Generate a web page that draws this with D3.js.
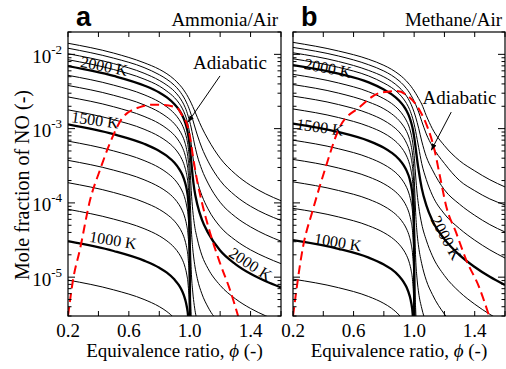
<!DOCTYPE html>
<html><head><meta charset="utf-8">
<script src="https://cdn.jsdelivr.net/npm/d3@7"></script>
<style>body{margin:0;background:#fff}svg{display:block}</style>
</head><body>
<svg id="c" width="506" height="369"></svg>
<script>
// ---------------- data ----------------
const isoTemps = [900,1000,1100,1200,1300,1400,1500,1600,1700,1800,1900,2000,2100,2200,2300,2400];
const boldTemps = [1000,1500,2000];
const xTickValues = [0.2,0.4,0.6,0.8,1.0,1.2,1.4,1.6];
const xTickLabels = [0.2,0.6,1.0,1.4];
const yDecades = [1e-5,1e-4,1e-3,1e-2];

// Ammonia/Air isotherms: [phi, NO mole fraction]
const nh3Isotherms = [
 [[0.2,9.14e-6],[0.5,6.75e-6],[0.7,5.01e-6],[0.8,4.01e-6],[0.85,3.44e-6],[0.9,2.78e-6],[0.93,2.31e-6],[0.95,1.95e-6]],
 [[0.2,3.05e-5],[0.5,2.25e-5],[0.7,1.67e-5],[0.8,1.34e-5],[0.85,1.15e-5],[0.9,9.29e-6],[0.93,7.73e-6],[0.95,6.52e-6],[0.97,5.02e-6],[0.98,4.09e-6],[0.99,2.89e-6],[0.997,1.58e-6]],
 [[0.2,8.20e-5],[0.5,6.05e-5],[0.7,4.50e-5],[0.8,3.60e-5],[0.85,3.08e-5],[0.9,2.49e-5],[0.93,2.07e-5],[0.95,1.75e-5],[0.97,1.35e-5],[0.98,1.10e-5],[0.99,7.76e-6],[0.997,4.25e-6],[1.0,1e-7]],
 [[0.2,1.87e-4],[0.5,1.38e-4],[0.7,1.02e-4],[0.8,8.18e-5],[0.85,7.01e-5],[0.9,5.68e-5],[0.93,4.72e-5],[0.95,3.98e-5],[0.97,3.07e-5],[0.98,2.50e-5],[0.99,1.77e-5],[0.997,9.66e-6],[1.0,1e-7]],
 [[0.2,3.74e-4],[0.5,2.76e-4],[0.7,2.05e-4],[0.8,1.64e-4],[0.85,1.41e-4],[0.9,1.14e-4],[0.93,9.46e-5],[0.95,7.98e-5],[0.97,6.15e-5],[0.98,5.01e-5],[0.99,3.54e-5],[0.997,1.94e-5],[1.0,2.12e-6],[1.003,1e-7]],
 [[0.2,6.79e-4],[0.5,5.01e-4],[0.7,3.72e-4],[0.8,2.98e-4],[0.85,2.55e-4],[0.9,2.07e-4],[0.93,1.72e-4],[0.95,1.45e-4],[0.97,1.12e-4],[0.98,9.10e-5],[0.99,6.43e-5],[0.997,3.52e-5],[1.0,6.70e-6],[1.003,1e-7]],
 [[0.2,1.14e-3],[0.5,8.41e-4],[0.7,6.25e-4],[0.8,5.00e-4],[0.85,4.29e-4],[0.9,3.47e-4],[0.93,2.88e-4],[0.95,2.43e-4],[0.97,1.87e-4],[0.98,1.53e-4],[0.99,1.08e-4],[0.997,5.90e-5],[1.0,1.81e-5],[1.003,1.7e-6],[1.006,1e-7]],
 [[0.2,1.79e-3],[0.5,1.32e-3],[0.7,9.82e-4],[0.8,7.85e-4],[0.85,6.73e-4],[0.9,5.45e-4],[0.93,4.53e-4],[0.95,3.82e-4],[0.97,2.94e-4],[0.98,2.40e-4],[0.99,1.69e-4],[0.997,9.72e-5],[1.0,4.32e-5],[1.003,9.33e-6],[1.01,2.82e-6],[1.02,1.4e-6]],
 [[0.2,2.67e-3],[0.5,1.97e-3],[0.7,1.46e-3],[0.8,1.17e-3],[0.85,1.00e-3],[0.9,8.11e-4],[0.93,6.75e-4],[0.95,5.69e-4],[0.97,4.39e-4],[0.98,3.57e-4],[0.99,2.57e-4],[0.997,1.56e-4],[1.0,9.31e-5],[1.003,3.89e-5],[1.01,1.26e-5],[1.02,6.31e-6],[1.03,4.17e-6],[1.05,2.51e-6]],
 [[0.2,3.81e-3],[0.5,2.81e-3],[0.7,2.09e-3],[0.8,1.67e-3],[0.85,1.43e-3],[0.9,1.16e-3],[0.93,9.64e-4],[0.95,8.15e-4],[0.97,6.34e-4],[0.98,5.21e-4],[0.99,3.82e-4],[0.997,2.52e-4],[1.0,1.84e-4],[1.003,1.18e-4],[1.01,4.75e-5],[1.02,2.41e-5],[1.03,1.61e-5],[1.05,9.57e-6],[1.08,5.97e-6],[1.12,3.96e-6],[1.2,2.35e-6]],
 [[0.2,5.22e-3],[0.5,3.85e-3],[0.7,2.86e-3],[0.8,2.29e-3],[0.85,1.96e-3],[0.9,1.59e-3],[0.93,1.33e-3],[0.95,1.13e-3],[0.97,8.85e-4],[0.98,7.38e-4],[0.99,5.61e-4],[0.997,4.10e-4],[1.0,3.40e-4],[1.003,2.69e-4],[1.01,1.47e-4],[1.02,7.89e-5],[1.03,5.28e-5],[1.05,3.26e-5],[1.08,1.97e-5],[1.12,1.31e-5],[1.2,7.76e-6],[1.3,5.12e-6],[1.4,3.79e-6],[1.5,3.01e-6],[1.6,2.48e-6]],
 [[0.2,6.95e-3],[0.5,5.13e-3],[0.7,3.81e-3],[0.8,3.06e-3],[0.85,2.63e-3],[0.9,2.13e-3],[0.93,1.79e-3],[0.95,1.52e-3],[0.97,1.21e-3],[0.98,1.03e-3],[0.99,8.24e-4],[1.0,5.87e-4],[1.01,3.61e-4],[1.02,2.22e-4],[1.03,1.53e-4],[1.05,9.53e-5],[1.08,5.96e-5],[1.12,3.98e-5],[1.2,2.28e-5],[1.3,1.50e-5],[1.4,1.11e-5],[1.5,8.83e-6],[1.6,7.28e-6]],
 [[0.2,8.47e-3],[0.5,6.25e-3],[0.7,4.65e-3],[0.8,3.74e-3],[0.85,3.19e-3],[0.9,2.61e-3],[0.93,2.20e-3],[0.95,1.89e-3],[0.97,1.53e-3],[0.98,1.33e-3],[0.99,1.10e-3],[1.0,8.57e-4],[1.01,6.17e-4],[1.02,4.29e-4],[1.03,3.11e-4],[1.05,1.97e-4],[1.08,1.26e-4],[1.12,8.32e-5],[1.2,4.78e-5],[1.3,3.15e-5],[1.4,2.33e-5],[1.5,1.85e-5],[1.6,1.52e-5]],
 [[0.2,1.02e-2],[0.5,7.50e-3],[0.7,5.57e-3],[0.8,4.46e-3],[0.85,3.85e-3],[0.9,3.17e-3],[0.93,2.69e-3],[0.95,2.33e-3],[0.97,1.93e-3],[0.98,1.71e-3],[0.99,1.47e-3],[1.0,1.25e-3],[1.01,1.02e-3],[1.02,8.1e-4],[1.03,6.4e-4],[1.05,4.3e-4],[1.08,2.8e-4],[1.12,1.85e-4],[1.2,1.02e-4],[1.3,6.5e-5],[1.4,4.75e-5],[1.5,3.72e-5],[1.6,3.05e-5]],
 [[0.2,1.21e-2],[0.5,8.89e-3],[0.7,6.64e-3],[0.8,5.32e-3],[0.85,4.61e-3],[0.9,3.82e-3],[0.93,3.27e-3],[0.95,2.87e-3],[0.97,2.45e-3],[0.98,2.22e-3],[0.99,2.0e-3],[1.0,1.76e-3],[1.01,1.53e-3],[1.02,1.32e-3],[1.03,1.12e-3],[1.05,8.2e-4],[1.08,5.5e-4],[1.12,3.65e-4],[1.2,2.0e-4],[1.3,1.25e-4],[1.4,9.0e-5],[1.5,7.05e-5],[1.6,5.8e-5]],
 [[0.2,1.41e-2],[0.5,1.04e-2],[0.7,7.71e-3],[0.8,6.29e-3],[0.85,5.48e-3],[0.9,4.57e-3],[0.93,3.96e-3],[0.95,3.55e-3],[0.97,3.1e-3],[0.98,2.88e-3],[0.99,2.65e-3],[1.0,2.42e-3],[1.01,2.2e-3],[1.02,1.98e-3],[1.03,1.78e-3],[1.05,1.42e-3],[1.08,1.03e-3],[1.12,7.2e-4],[1.2,4.0e-4],[1.3,2.45e-4],[1.4,1.72e-4],[1.5,1.32e-4],[1.6,1.07e-4]]
];

// Methane/Air isotherms: [phi, NO mole fraction]
const ch4Isotherms = [
 [[0.2,9.41e-6],[0.5,7.22e-6],[0.7,5.48e-6],[0.8,4.43e-6],[0.85,3.82e-6],[0.9,3.10e-6],[0.93,2.59e-6],[0.95,2.18e-6]],
 [[0.2,3.15e-5],[0.5,2.41e-5],[0.7,1.83e-5],[0.8,1.48e-5],[0.85,1.28e-5],[0.9,1.04e-5],[0.93,8.65e-6],[0.95,7.30e-6],[0.97,5.64e-6],[0.98,4.60e-6],[0.99,3.25e-6],[0.997,1.78e-6]],
 [[0.2,8.44e-5],[0.5,6.48e-5],[0.7,4.92e-5],[0.8,3.98e-5],[0.85,3.43e-5],[0.9,2.78e-5],[0.93,2.32e-5],[0.95,1.96e-5],[0.97,1.52e-5],[0.98,1.24e-5],[0.99,8.73e-6],[0.997,4.78e-6],[1.0,1e-7]],
 [[0.2,1.92e-4],[0.5,1.47e-4],[0.7,1.12e-4],[0.8,9.05e-5],[0.85,7.80e-5],[0.9,6.34e-5],[0.93,5.28e-5],[0.95,4.46e-5],[0.97,3.45e-5],[0.98,2.81e-5],[0.99,1.99e-5],[0.997,1.09e-5],[1.0,1e-7]],
 [[0.2,3.85e-4],[0.5,2.95e-4],[0.7,2.24e-4],[0.8,1.81e-4],[0.85,1.56e-4],[0.9,1.27e-4],[0.93,1.06e-4],[0.95,8.94e-5],[0.97,6.91e-5],[0.98,5.63e-5],[0.99,3.98e-5],[0.997,2.18e-5],[1.0,3e-6],[1.003,1e-7]],
 [[0.2,6.99e-4],[0.5,5.36e-4],[0.7,4.07e-4],[0.8,3.29e-4],[0.85,2.84e-4],[0.9,2.31e-4],[0.93,1.92e-4],[0.95,1.62e-4],[0.97,1.25e-4],[0.98,1.02e-4],[0.99,7.23e-5],[0.997,3.96e-5],[1.0,7.4e-6],[1.003,1e-7]],
 [[0.2,1.17e-3],[0.5,9.00e-4],[0.7,6.84e-4],[0.8,5.53e-4],[0.85,4.76e-4],[0.9,3.87e-4],[0.93,3.23e-4],[0.95,2.72e-4],[0.97,2.11e-4],[0.98,1.72e-4],[0.99,1.21e-4],[0.997,6.75e-5],[1.0,2.08e-5],[1.003,2.05e-6],[1.006,1e-7]],
 [[0.2,1.84e-3],[0.5,1.41e-3],[0.7,1.07e-3],[0.8,8.68e-4],[0.85,7.48e-4],[0.9,6.08e-4],[0.93,5.07e-4],[0.95,4.28e-4],[0.97,3.31e-4],[0.98,2.70e-4],[0.99,1.92e-4],[0.997,1.10e-4],[1.0,5.12e-5],[1.003,1.22e-5],[1.01,3.71e-6],[1.02,1.86e-6]],
 [[0.2,2.74e-3],[0.5,2.11e-3],[0.7,1.60e-3],[0.8,1.29e-3],[0.85,1.11e-3],[0.9,9.05e-4],[0.93,7.55e-4],[0.95,6.37e-4],[0.97,4.97e-4],[0.98,4.06e-4],[0.99,2.92e-4],[0.997,1.80e-4],[1.0,1.14e-4],[1.003,5.41e-5],[1.01,1.82e-5],[1.02,9.15e-6],[1.03,6.12e-6],[1.05,3.83e-6],[1.08,2.38e-6]],
 [[0.2,3.92e-3],[0.5,3.01e-3],[0.7,2.28e-3],[0.8,1.85e-3],[0.85,1.59e-3],[0.9,1.29e-3],[0.93,1.08e-3],[0.95,9.16e-4],[0.97,7.15e-4],[0.98,5.91e-4],[0.99,4.39e-4],[0.997,3.01e-4],[1.0,2.32e-4],[1.003,1.63e-4],[1.01,7.36e-5],[1.02,3.78e-5],[1.03,2.54e-5],[1.05,1.52e-5],[1.08,9.08e-6],[1.12,5.87e-6],[1.2,3.18e-6],[1.3,1.91e-6]],
 [[0.2,5.38e-3],[0.5,4.12e-3],[0.7,3.13e-3],[0.8,2.53e-3],[0.85,2.19e-3],[0.9,1.78e-3],[0.93,1.49e-3],[0.95,1.27e-3],[0.97,1.01e-3],[0.98,8.46e-4],[0.99,6.60e-4],[0.997,5.07e-4],[1.0,4.36e-4],[1.003,3.66e-4],[1.01,2.30e-4],[1.02,1.32e-4],[1.03,8.97e-5],[1.05,5.21e-5],[1.08,3.16e-5],[1.12,1.94e-5],[1.2,1.05e-5],[1.3,6.32e-6],[1.4,4.33e-6],[1.5,3.16e-6],[1.6,2.43e-6]],
 [[0.2,7.16e-3],[0.5,5.49e-3],[0.7,4.19e-3],[0.8,3.36e-3],[0.85,2.91e-3],[0.9,2.39e-3],[0.93,2.02e-3],[0.95,1.74e-3],[0.97,1.41e-3],[0.98,1.22e-3],[0.99,1.01e-3],[1.0,7.75e-4],[1.01,5.49e-4],[1.02,3.78e-4],[1.03,2.73e-4],[1.05,1.58e-4],[1.08,9.33e-5],[1.12,5.80e-5],[1.2,3.25e-5],[1.3,1.98e-5],[1.4,1.37e-5],[1.5,1.01e-5],[1.6,7.83e-6]],
 [[0.2,8.72e-3],[0.5,6.69e-3],[0.7,5.11e-3],[0.8,4.11e-3],[0.85,3.58e-3],[0.9,2.95e-3],[0.93,2.51e-3],[0.95,2.18e-3],[0.97,1.81e-3],[0.98,1.60e-3],[0.99,1.38e-3],[1.0,1.15e-3],[1.01,9.19e-4],[1.02,7.16e-4],[1.03,5.57e-4],[1.05,3.40e-4],[1.08,2.07e-4],[1.12,1.27e-4],[1.2,7.1e-5],[1.3,4.5e-5],[1.4,3.15e-5],[1.5,2.33e-5],[1.6,1.81e-5]],
 [[0.2,1.05e-2],[0.5,8.02e-3],[0.7,6.07e-3],[0.8,4.98e-3],[0.85,4.34e-3],[0.9,3.61e-3],[0.93,3.11e-3],[0.95,2.74e-3],[0.97,2.34e-3],[0.98,2.12e-3],[0.99,1.89e-3],[1.0,1.66e-3],[1.01,1.43e-3],[1.02,1.21e-3],[1.03,1.01e-3],[1.05,6.8e-4],[1.08,4.2e-4],[1.12,2.8e-4],[1.2,1.5e-4],[1.3,9.6e-5],[1.4,6.8e-5],[1.5,5.1e-5],[1.6,4.06e-5]],
 [[0.2,1.24e-2],[0.5,9.51e-3],[0.7,7.24e-3],[0.8,5.97e-3],[0.85,5.24e-3],[0.9,4.41e-3],[0.93,3.86e-3],[0.95,3.45e-3],[0.97,3.03e-3],[0.98,2.80e-3],[0.99,2.57e-3],[1.0,2.34e-3],[1.01,2.11e-3],[1.02,1.88e-3],[1.03,1.67e-3],[1.05,1.26e-3],[1.08,8.5e-4],[1.12,5.8e-4],[1.2,3.4e-4],[1.3,2.0e-4],[1.4,1.46e-4],[1.5,1.13e-4],[1.6,9.4e-5]],
 [[0.2,1.45e-2],[0.5,1.11e-2],[0.7,8.58e-3],[0.8,7.12e-3],[0.85,6.30e-3],[0.9,5.38e-3],[0.93,4.78e-3],[0.95,4.36e-3],[0.97,3.91e-3],[0.98,3.69e-3],[0.99,3.45e-3],[1.0,3.22e-3],[1.01,2.99e-3],[1.02,2.76e-3],[1.03,2.54e-3],[1.05,2.14e-3],[1.08,1.5e-3],[1.12,1.0e-3],[1.2,5.9e-4],[1.3,3.7e-4],[1.4,2.7e-4],[1.5,2.05e-4],[1.6,1.64e-4]]
];

// Adiabatic equilibrium NO (red dashed)
const nh3Adiabatic = [[0.2,3.0e-6],[0.233,9.16e-6],[0.279,2.39e-5],[0.345,1.09e-4],[0.41,2.77e-4],[0.476,6.40e-4],[0.562,1.43e-3],[0.673,1.95e-3],[0.76,2.10e-3],[0.825,2.08e-3],[0.917,1.90e-3],[0.956,1.43e-3],[0.982,1.15e-3],[1.002,7.71e-4],[1.022,4.15e-4],[1.048,2.03e-4],[1.081,1.0e-4],[1.134,3.94e-5],[1.199,1.55e-5],[1.265,6.72e-6],[1.318,3.0e-6]];
const ch4Adiabatic = [[0.2,3.0e-6],[0.266,2.55e-5],[0.331,8.02e-5],[0.41,2.77e-4],[0.509,1.05e-3],[0.64,1.95e-3],[0.772,3.02e-3],[0.884,3.21e-3],[0.95,2.84e-3],[1.035,1.78e-3],[1.088,1.05e-3],[1.134,5.2e-4],[1.17,2.3e-4],[1.213,8.81e-5],[1.278,3.94e-5],[1.344,1.70e-5],[1.429,7.36e-6],[1.495,3.0e-6]];

// ---------------- drawing ----------------
const serif = "'Liberation Serif','Times New Roman',serif";
const sans = "'Liberation Sans',Arial,sans-serif";
const svg = d3.select('#c');
const TOP = 32, BOT = 316;
const yS = d3.scaleLog().domain([3e-6, 2e-2]).range([BOT, TOP]);

const panels = [
  {x0:68, x1:281, iso:nh3Isotherms, adia:nh3Adiabatic, letter:'a', title:'Ammonia/Air', yLabels:true,
   labels:[{t:'2000 K',p:0.437,v:6.97e-3,r:11},{t:'1500 K',p:0.378,v:1.31e-3,r:8},{t:'1000 K',p:0.496,v:3.16e-5,r:9},{t:'2000 K',p:1.40,v:1.50e-5,r:33}],
   adiaText:{p:1.022,v:6.35e-3}, arrow:{p1:1.199,v1:5.12e-3,p2:0.99,v2:1.23e-3}},
  {x0:293, x1:505, iso:ch4Isotherms, adia:ch4Adiabatic, letter:'b', title:'Methane/Air', yLabels:false,
   labels:[{t:'2000 K',p:0.43,v:6.55e-3,r:11},{t:'1500 K',p:0.378,v:1.05e-3,r:8},{t:'1000 K',p:0.496,v:2.97e-5,r:9},{t:'2000 K',p:1.212,v:3.37e-5,r:62}],
   adiaText:{p:1.055,v:2.15e-3}, arrow:{p1:1.245,v1:1.67e-3,p2:1.114,v2:5.15e-4}}
];

const defs = svg.append('defs');
defs.append('marker').attr('id','ah').attr('viewBox','0 0 10 10').attr('refX',9).attr('refY',5)
  .attr('markerWidth',7).attr('markerHeight',7).attr('orient','auto')
  .append('path').attr('d','M0,1.5 L10,5 L0,8.5 z').attr('fill','#000');

panels.forEach((cfg, idx) => {
  const xS = d3.scaleLinear().domain([0.2,1.6]).range([cfg.x0, cfg.x1]);
  const g = svg.append('g');
  const clipId = 'clip' + idx;
  defs.append('clipPath').attr('id', clipId).append('rect')
    .attr('x', cfg.x0).attr('y', TOP).attr('width', cfg.x1 - cfg.x0).attr('height', BOT - TOP);
  const line = d3.line().x(d => xS(d[0])).y(d => yS(d[1])).curve(d3.curveMonotoneX);
  const cg = g.append('g').attr('clip-path', `url(#${clipId})`);
  cfg.iso.forEach((pts, i) => {
    cg.append('path').attr('d', line(pts)).attr('fill','none').attr('stroke','#000')
      .attr('stroke-width', boldTemps.includes(isoTemps[i]) ? 2.3 : 1);
  });
  cg.append('path').attr('d', line(cfg.adia)).attr('fill','none').attr('stroke','#ff0000')
    .attr('stroke-width', 2).attr('stroke-dasharray','9,5');

  // frame
  g.append('rect').attr('x', cfg.x0).attr('y', TOP).attr('width', cfg.x1 - cfg.x0).attr('height', BOT - TOP)
    .attr('fill','none').attr('stroke','#000').attr('stroke-width',1.2);

  // x ticks (inward, bottom & top)
  xTickValues.forEach(v => {
    const x = xS(v);
    g.append('line').attr('x1',x).attr('x2',x).attr('y1',BOT).attr('y2',BOT-5).attr('stroke','#000');
    g.append('line').attr('x1',x).attr('x2',x).attr('y1',TOP).attr('y2',TOP+5).attr('stroke','#000');
  });
  xTickLabels.forEach(v => {
    g.append('text').attr('x', xS(v)).attr('y', 337).attr('text-anchor','middle')
      .attr('font-family', serif).attr('font-size', 19).text(v.toFixed(1));
  });
  // y ticks (log, inward, both sides)
  for (let e = -6; e <= -2; e++) {
    for (let k = 1; k <= 9; k++) {
      const v = k * Math.pow(10, e);
      if (v < 3e-6 * 0.999 || v > 2e-2 * 1.001) continue;
      const y = yS(v), len = k === 1 ? 7 : 3.5;
      g.append('line').attr('x1',cfg.x0).attr('x2',cfg.x0+len).attr('y1',y).attr('y2',y).attr('stroke','#000');
      g.append('line').attr('x1',cfg.x1).attr('x2',cfg.x1-len).attr('y1',y).attr('y2',y).attr('stroke','#000');
    }
  }
  if (cfg.yLabels) {
    yDecades.forEach(v => {
      const t = g.append('text').attr('x', cfg.x0 - 6).attr('y', yS(v) + 8.5).attr('text-anchor','end')
        .attr('font-family', serif).attr('font-size', 19);
      t.append('tspan').text('10');
      t.append('tspan').attr('dy', -9).attr('font-size', 13).text('-' + Math.round(-Math.log10(v)));
    });
  }
  // x axis title
  const xt = g.append('text').attr('x', (cfg.x0 + cfg.x1) / 2).attr('y', 357).attr('text-anchor','middle')
    .attr('font-family', serif).attr('font-size', 19);
  xt.append('tspan').text('Equivalence ratio, ');
  xt.append('tspan').attr('font-style','italic').text('\u03d5');
  xt.append('tspan').text(' (-)');
  // panel letter & title
  g.append('text').attr('x', cfg.x0 + 8).attr('y', 26).attr('font-family', sans).attr('font-weight','bold')
    .attr('font-size', 27).text(cfg.letter);
  g.append('text').attr('x', cfg.x1 - 3).attr('y', 26).attr('text-anchor','end').attr('font-family', serif)
    .attr('font-size', 19).text(cfg.title);
  // curve labels
  cfg.labels.forEach(l => {
    const x = xS(l.p), y = yS(l.v);
    g.append('text').attr('transform', `translate(${x},${y}) rotate(${l.r})`).attr('text-anchor','middle')
      .attr('dominant-baseline','central').attr('font-family', serif).attr('font-size', 16).text(l.t);
  });
  // adiabatic annotation
  g.append('text').attr('x', xS(cfg.adiaText.p)).attr('y', yS(cfg.adiaText.v)).attr('font-family', serif)
    .attr('font-size', 19).text('Adiabatic');
  g.append('line').attr('x1', xS(cfg.arrow.p1)).attr('y1', yS(cfg.arrow.v1))
    .attr('x2', xS(cfg.arrow.p2)).attr('y2', yS(cfg.arrow.v2)).attr('stroke','#000').attr('stroke-width',1)
    .attr('marker-end','url(#ah)');
});

// y axis title
svg.append('text').attr('transform','translate(22,185) rotate(-90)').attr('text-anchor','middle')
  .attr('dominant-baseline','central').attr('font-family', serif).attr('font-size', 20)
  .text('Mole fraction of NO (-)');
</script>
</body></html>
